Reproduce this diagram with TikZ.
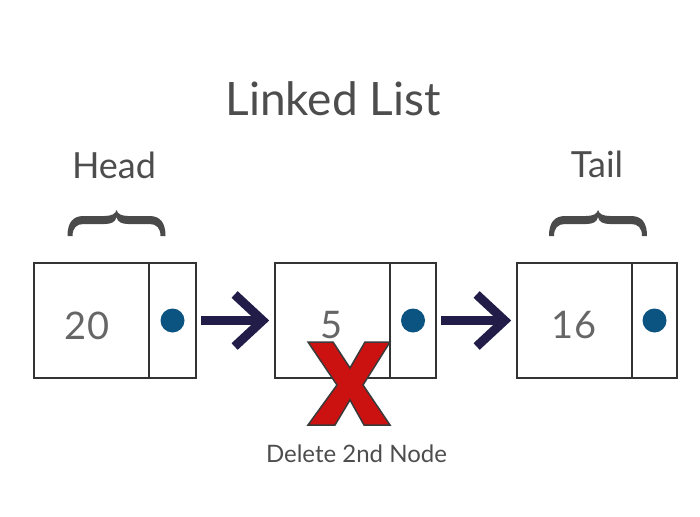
\documentclass[tikz,border=0pt]{standalone}
\usepackage{fontspec}
\setmainfont{Lato}
\usetikzlibrary{arrows.meta}
\definecolor{txt}{HTML}{4D4D4D}
\definecolor{numc}{HTML}{666666}
\definecolor{boxc}{HTML}{333333}
\definecolor{dotc}{HTML}{0B5380}
\definecolor{arrc}{HTML}{211C48}
\definecolor{xred}{HTML}{CC1111}
\definecolor{xline}{HTML}{3A3A3A}
\definecolor{bracec}{HTML}{4A4A4A}
\begin{document}
\begin{tikzpicture}[x=1pt,y=-1pt,
  cell/.style={draw=boxc, line width=1.6pt, minimum height=115pt, inner sep=0pt},
  datacell/.style={cell, minimum width=115pt},
  ptrcell/.style={cell, minimum width=46pt},
  dotnode/.style={circle, fill=dotc, minimum size=24pt, inner sep=0pt},
  numtext/.style={text=numc, font=\fontsize{38}{44}\selectfont, anchor=base, inner sep=0pt},
  title/.style={text=txt, font=\fontsize{46}{52}\selectfont, anchor=base, inner sep=0pt},
  label/.style={text=txt, font=\fontsize{36}{42}\selectfont, anchor=base, inner sep=0pt},
  note/.style={text=txt, font=\fontsize{24}{28}\selectfont, anchor=base, inner sep=0pt},
  link/.style={draw=arrc, line width=9pt, shorten <=4pt, shorten >=5pt,
    -{Straight Barb[length=28pt,width=52pt,line join=miter,line cap=butt]}},
  pics/curlyb/.style={code={
    \fill[bracec] (-49,16) .. controls (-49,3) and (-44,-4) .. (-33,-4) -- (-12,-4)
      .. controls (-5,-4) and (-1,-6) .. (0,-10) .. controls (1,-6) and (5,-4) .. (12,-4)
      -- (33,-4) .. controls (44,-4) and (49,3) .. (49,16) -- (44,16)
      .. controls (44,8) and (40,4) .. (33,4) -- (12,4) .. controls (5,4) and (1,2) .. (0,-3)
      .. controls (-1,2) and (-5,4) .. (-12,4) -- (-33,4) .. controls (-40,4) and (-44,8) .. (-44,16) -- cycle;
  }}
]
\useasboundingbox (0,0) rectangle (700,516);

\node[title] (ttl) at (333,115) {Linked List};
\node[label] (head) at (114,178) {Head};
\node[label] (tail) at (597,177) {Tail};
\pic at (116.5,220) {curlyb};
\pic at (598,220) {curlyb};

\node[datacell] (d1) at (91.5,320.5) {};
\node[ptrcell, minimum width=47pt] (p1) at (172.5,320.5) {};
\node[datacell] (d2) at (332.5,320.5) {};
\node[ptrcell] (p2) at (413,320.5) {};
\node[datacell] (d3) at (574.5,320.5) {};
\node[ptrcell, minimum width=45pt] (p3) at (654.5,320.5) {};

\node[dotnode] (c1) at (p1.center) {};
\node[dotnode] (c2) at (p2.center) {};
\node[dotnode] (c3) at (p3.center) {};

\node[numtext] (v1) at (87,339) {20};
\node[numtext] (v2) at (332,338) {5};
\node[numtext] (v3) at (574,338) {16};

\draw[link] (p1.east) -- (d2.west);
\draw[link] (p2.east) -- (d3.west);

\filldraw[fill=xred, draw=xline, line width=1.5pt, line join=miter]
  (308,342) -- (333,342) -- (350,368) -- (365,342) -- (390,342) -- (363,385)
  -- (390,425) -- (364,425) -- (350,400) -- (335,425) -- (308,425) -- (337,385) -- cycle;

\node[note] (del) at (356.5,462) {Delete 2nd Node};
\end{tikzpicture}
\end{document}
